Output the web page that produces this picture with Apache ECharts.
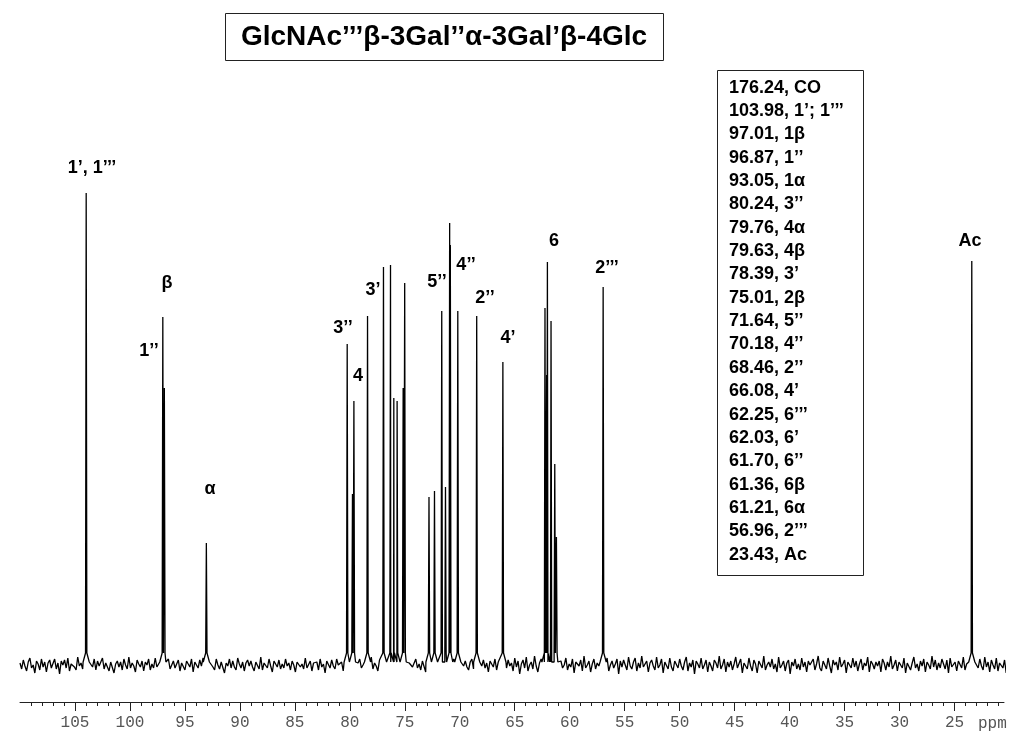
<!DOCTYPE html>
<html>
<head>
<meta charset="utf-8">
<script src="https://cdn.jsdelivr.net/npm/echarts@6/dist/echarts.min.js"></script>
<style>
html,body{margin:0;padding:0;background:#fff;}
#chart{width:1024px;height:742px;}
</style>
</head>
<body>
<div id="chart"></div>
<script>
// ---- data (ppm, intensity in arbitrary units above baseline) ----
const peakPpm = [103.98, 97.01, 96.87, 93.05, 80.24, 79.76, 79.63, 78.39, 76.94, 76.30, 76.00, 75.70, 75.15, 75.01,
  72.80, 72.30, 71.64, 71.30, 70.92, 70.86, 70.18, 68.46, 66.08, 62.25, 62.10, 62.03, 61.70, 61.36, 61.21, 56.96, 23.43];
const peakHeight = [472, 348, 277, 122, 321, 171, 264, 349, 398, 400, 267, 264, 277, 382,
  168, 174, 354, 178, 442, 420, 354, 349, 303, 357, 290, 403, 344, 201, 128, 378, 404];

// baseline noise (one value every 0.15 ppm from 110 ppm)
const noiseStart = 110;
const noiseStep = 0.15;
const noiseVals = [
  2,-4,5,-1,-6,3,7,-3,0,-8,4,1,-5,6,-2,3,-7,2,5,-3,
  -1,6,-4,2,-9,4,0,5,-3,7,-6,1,3,-2,-5,8,-1,2,-4,0,
  5,-7,3,1,-2,6,-5,4,-1,-3,7,-4,2,0,-6,3,5,-8,1,4,
  -2,3,-5,6,0,-4,8,-3,2,-1,-7,5,1,-2,4,-6,3,0,6,-5,
  1,-3,7,-2,-4,5,-1,3,-8,2,6,-4,0,4,-3,-1,5,-6,2,3,
  -5,4,1,-2,6,-7,3,0,-3,5,-1,7,-4,2,-6,1,4,-2,-5,6,
  0,-4,3,5,-8,2,-1,6,-3,4,-2,-5,7,1,-3,3,-6,2,5,-1,
  4,-2,-6,3,1,-4,8,-5,2,0,-3,6,-1,-7,4,2,-2,5,-4,1,
  -3,6,-1,2,-5,4,0,-7,3,5,-2,1,-4,7,-3,-1,4,-6,2,0,
  3,-5,6,-2,1,-8,4,2,-3,5,-1,-4,6,0,-2,3,-6,7,-1,-3,
  5,1,-4,3,-7,2,6,-3,0,4,-5,1,-2,8,-4,2,-1,-6,5,3,
  -2,4,-6,1,3,-3,7,-5,0,2,-4,6,-1,-3,5,-7,2,4,-2,0,
  6,-3,1,-5,4,2,-7,3,-1,5,-2,0,-6,4,7,-4,1,-2,3,-5,
  2,0,-4,6,-3,1,5,-8,2,-1,4,-2,-5,3,6,-4,0,2,-6,4,
  -1,5,-3,2,-7,4,1,-2,6,-5,3,0,-4,7,-2,-3,5,-1,2,-6,
  7,-2,4,-9,1,5,-3,8,-6,0,3,-4,9,-1,-7,2,6,-5,1,-2,
  -4,8,-1,3,-6,5,-9,2,4,-3,0,7,-5,1,-2,6,-8,3,2,-1,
  5,-6,9,-3,0,4,-7,1,6,-4,2,-1,-8,5,3,-2,7,-6,0,4,
  -3,1,6,-9,4,-2,5,0,-5,8,-1,-4,3,7,-6,2,-3,9,-2,1,
  4,-7,2,5,-1,-5,8,-3,0,6,-8,3,1,-4,7,-2,-6,4,2,-3,
  6,-1,-5,3,8,-6,2,-2,5,-9,4,1,-3,7,-4,0,5,-7,3,-1,
  -6,5,2,-3,9,-4,0,6,-7,3,-2,4,-5,1,8,-3,-1,6,-8,2,
  3,-4,7,-1,-6,5,1,-8,4,2,-3,9,-5,0,3,-2,6,-4,1,-7,
  8,-3,0,4,-6,2,5,-9,3,-1,6,-4,1,-5,7,-2,3,-7,4,0,
  -2,6,-5,1,9,-3,-6,4,2,-4,7,-1,-8,5,0,3,-5,8,-2,1,
  5,-8,3,0,-3,7,-2,4,-6,1,6,-5,2,-1,8,-7,4,1,-4,3,
  -1,4,-7,6,2,-5,3,-2,9,-4,0,5,-6,3,1,-3,7,-8,2,4,
  -5,2,8,-3,1,-6,4,-1,6,-7,3,0,-4,9,-2,5,-5,2,-3,6,
  1,-4,5,-8,7,-2,0,3,-6,4,2,-3,8,-5,1,-1,6,-4,3,-7,
  4,-3,6,-1,-5,8,-2,3,-7,5,0,-4,7,-6,2,1,-3,5,-8,3
];

// peak annotations
const labelText = ['1’, 1’’’', 'β', '1’’', 'α', '3’’', '4', '3’', '5’’', '4’’', '2’’', '4’', '6', '2’’’', 'Ac'];
const labelPpm  = [103.45, 96.63, 98.27, 92.72, 80.62, 79.26, 77.89, 72.07, 69.43, 67.71, 65.61, 61.43, 56.61, 23.59];
const labelY    = [497, 382, 314, 176, 337, 289, 375, 383, 400, 367, 327, 424, 397, 424];

// axis ticks
const majorTicks = [105, 100, 95, 90, 85, 80, 75, 70, 65, 60, 55, 50, 45, 40, 35, 30, 25];
const xMin = 20.5, xMax = 110;

const titleText = 'GlcNAc’’’β-3Gal’’α-3Gal’β-4Glc';
const assignments = ['176.24, CO', '103.98, 1’; 1’’’', '97.01, 1β', '96.87, 1’’', '93.05, 1α', '80.24, 3’’',
  '79.76, 4α', '79.63, 4β', '78.39, 3’', '75.01, 2β', '71.64, 5’’', '70.18, 4’’', '68.46, 2’’', '66.08, 4’',
  '62.25, 6’’’', '62.03, 6’', '61.70, 6’’', '61.36, 6β', '61.21, 6α', '56.96, 2’’’', '23.43, Ac'];

// ---- build trace ----
const pts = [];
noiseVals.forEach((v, i) => {
  const x = noiseStart - i * noiseStep;
  if (!peakPpm.some(p => Math.abs(p - x) < 0.28)) pts.push([x, v]);
});
peakPpm.forEach((p, i) => {
  const h = peakHeight[i];
  pts.push([p + 0.28, 3], [p + 0.06, 12], [p, h], [p - 0.06, 12], [p - 0.28, 3]);
});
pts.sort((a, b) => b[0] - a[0]);

const minorTicks = [];
for (let v = 21; v <= 109; v++) if (v % 5 !== 0) minorTicks.push(v);

const chart = echarts.init(document.getElementById('chart'));
chart.setOption({
  animation: false,
  backgroundColor: '#fff',
  grid: { left: 20, right: 20, top: 150, bottom: 40 },
  xAxis: [
    {
      type: 'value', min: xMin, max: xMax, inverse: true, position: 'bottom',
      splitLine: { show: false },
      axisLine: { show: true, onZero: false, lineStyle: { color: '#222', width: 1 } },
      axisTick: { show: true, customValues: majorTicks, length: 9, lineStyle: { color: '#222', width: 1 } },
      axisLabel: { show: true, customValues: majorTicks, margin: 13, color: '#555',
        fontFamily: 'Liberation Mono', fontSize: 16 }
    },
    {
      type: 'value', min: xMin, max: xMax, inverse: true, position: 'bottom',
      splitLine: { show: false },
      axisLine: { show: false, onZero: false },
      axisTick: { show: true, customValues: minorTicks, length: 4, lineStyle: { color: '#222', width: 1 } },
      axisLabel: { show: false }
    }
  ],
  yAxis: { type: 'value', min: -37, max: 515, show: false, splitLine: { show: false } },
  series: [
    {
      type: 'line', xAxisIndex: 0, data: pts, symbol: 'none', silent: true,
      lineStyle: { color: '#000', width: 1.3 }, sampling: false
    },
    {
      type: 'scatter', xAxisIndex: 0, symbolSize: 0, silent: true,
      itemStyle: { color: '#000', opacity: 1 },
      data: labelText.map((t, i) => ({ name: t, value: [labelPpm[i], labelY[i]] })),
      label: { show: true, position: 'inside', formatter: p => p.name, color: '#000',
        textBorderWidth: 0, textBorderColor: 'transparent',
        fontFamily: 'Liberation Sans', fontWeight: 'bold', fontSize: 18 }
    }
  ],
  graphic: [
    { type: 'rect', shape: { x: 225.5, y: 13.5, width: 438, height: 47 },
      style: { fill: '#fff', stroke: '#222', lineWidth: 1 } },
    { type: 'text', x: 444, y: 37,
      style: { text: titleText, fill: '#000', font: 'bold 28px "Liberation Sans"',
        textAlign: 'center', textVerticalAlign: 'middle' } },
    { type: 'rect', shape: { x: 717.5, y: 70.5, width: 146, height: 505 },
      style: { fill: '#fff', stroke: '#222', lineWidth: 1 } },
    { type: 'text', x: 729, y: 76,
      style: { text: assignments.join('\n'), fill: '#000', font: 'bold 18px "Liberation Sans"',
        lineHeight: 23.35, textAlign: 'left', textVerticalAlign: 'top' } },
    { type: 'text', x: 978, y: 724,
      style: { text: 'ppm', fill: '#555', font: '16px "Liberation Mono"',
        textAlign: 'left', textVerticalAlign: 'middle' } }
  ]
});
</script>
</body>
</html>
